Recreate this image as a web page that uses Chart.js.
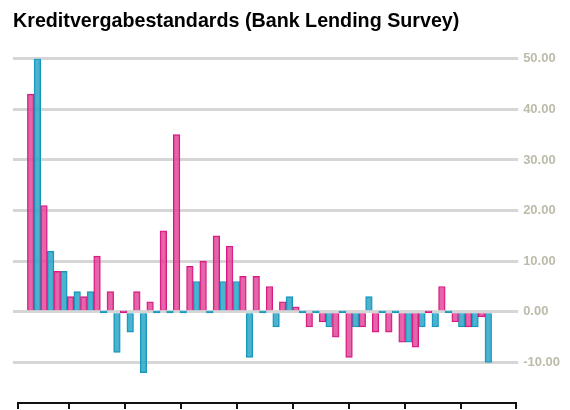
<!DOCTYPE html>
<html>
<head>
<meta charset="utf-8">
<title>Kreditvergabestandards</title>
<script src="https://cdn.jsdelivr.net/npm/chart.js@4/dist/chart.umd.min.js"></script>
<style>
    html, body { margin: 0; padding: 0; background: #fff; }
    #wrap { width: 570px; height: 410px; }
</style>
</head>
<body>
<div id="wrap"><canvas id="lending-bar-chart"></canvas></div>
<script>
// =========================
//  DATA
// =========================
const chartTitle = "Kreditvergabestandards (Bank Lending Survey)";

// one entry per survey round, left to right
const pinkValues = [43, 21, 8, 3, 3, 11, 4, 0, 4, 2, 16, 35, 9, 10, 15, 13, 7, 7,
    5, 2, 1, -3, -2, -5, -9, -3, -4, -4, -6, -7, 0, 5, -2, -3, -1];
const cyanValues = [50, 12, 8, 4, 4, 0, -8, -4, -12, 0, 0, 0, 6, 0, 6, 6, -9, 0,
    -3, 3, 0, 0, -3, 0, -3, 3, 0, 0, -6, -3, -3, 0, -3, -3, -10];

// bottom axis tick marks (no labels in the original)
const axisTicks = [0.09, 1, 2, 3, 4, 5, 6, 7, 8, 8.98];

// =========================
//  STYLE
// =========================
const gridColor = "#d6d6d6";
const tickColor = "#bdbbaa";
const fontFamily = "'Liberation Sans', Arial, sans-serif";

const yRange = { min: -18, max: 50 };

// the y axes would otherwise reserve room below the plot for half a label
function noLabelPadding(scale) {
    scale.paddingBottom = 0;
}

// =========================
//  CHART
// =========================
const indexLabels = pinkValues.map((v, i) => i);

new Chart(document.getElementById("lending-bar-chart"), {
    type: "bar",
    data: {
        labels: indexLabels,
        datasets: [{
            data: pinkValues,
            backgroundColor: "rgba(224, 66, 150, 0.82)",
            borderColor: "#d6177f",
            borderWidth: 1
        }, {
            data: cyanValues,
            backgroundColor: "rgba(44, 166, 200, 0.85)",
            borderColor: "#1597bb",
            borderWidth: 1
        }]
    },
    options: {
        responsive: true,
        maintainAspectRatio: false,
        animation: false,
        barPercentage: 1,
        categoryPercentage: 1,
        minBarLength: 2,
        layout: { padding: { left: 13, right: 5, top: 0, bottom: 1 } },
        plugins: {
            legend: { display: false },
            tooltip: { enabled: false },
            title: {
                display: true,
                text: chartTitle,
                align: "start",
                color: "#000",
                font: { family: fontFamily, size: 19.7, weight: "bold" },
                padding: { top: 10, bottom: 25 }
            }
        },
        scales: {
            x: {
                type: "linear",
                display: false,
                offset: false,
                min: -1.21,
                max: 36.35
            },
            xt: {
                type: "linear",
                position: "bottom",
                offset: false,
                min: axisTicks[0],
                max: axisTicks[axisTicks.length - 1],
                afterBuildTicks: s => { s.ticks = axisTicks.map(v => ({ value: v })); },
                ticks: { display: false },
                grid: {
                    offset: false,
                    drawOnChartArea: false,
                    color: "#111",
                    lineWidth: 2,
                    tickLength: 6
                },
                border: { color: "#111", width: 2 }
            },
            y: {
                position: "right",
                min: yRange.min,
                max: yRange.max,
                afterFit: noLabelPadding,
                ticks: {
                    stepSize: 10,
                    includeBounds: false,
                    padding: 5,
                    color: tickColor,
                    font: { family: fontFamily, size: 13, weight: "bold" },
                    callback: v => v.toFixed(2)
                },
                grid: { color: gridColor, lineWidth: 3, tickLength: 2 },
                border: { display: false }
            },
            yl: {
                position: "left",
                min: yRange.min,
                max: yRange.max,
                afterFit: noLabelPadding,
                ticks: { display: false, stepSize: 10, includeBounds: false },
                grid: { drawOnChartArea: false, color: gridColor, lineWidth: 3, tickLength: 5 },
                border: { display: false }
            }
        }
    }
});
</script>
</body>
</html>
